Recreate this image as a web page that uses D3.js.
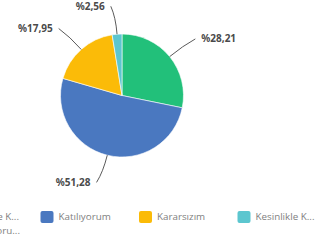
<!DOCTYPE html>
<html>
<head>
<meta charset="utf-8">
<script src="https://cdn.jsdelivr.net/npm/d3@7"></script>
<style>
	body { margin: 0; background: #fff; }
	svg { display: block; }
</style>
</head>
<body>
<div id="pie-chart-placeholder"></div>
<script>

// data
let categories = ["Kesinlikle Katılıyorum", "Katılıyorum", "Kararsızım", "Kesinlikle Katılmıyorum"];
let values = [28.21, 51.28, 17.95, 2.56];
let valueLabels = ["%28,21", "%51,28", "%17,95", "%2,56"];
let colors = ["#22c07a", "#4a78c0", "#fbbb08", "#5cc6cf"];

// legend rows as shown (first column is cut off by the left edge)
let legendRow1 = ["Kesinlikle K...", "Katılıyorum", "Kararsızım", "Kesinlikle K..."];
let legendRow1Colors = ["#22c07a", "#4a78c0", "#fbbb08", "#5cc6cf"];
let legendRow2 = ["Katılmıyoru..."];
let legendRow2Colors = ["#e8684a"];

function drawPieChart() {
	let width = 327, height = 246;
	let cx = 122, cy = 95.5, radius = 61.5;

	let svg = d3.select("#pie-chart-placeholder")
		.append("svg")
		.attr("width", width)
		.attr("height", height);

	let g = svg.append("g")
		.attr("transform", `translate(${cx}, ${cy})`);

	let pie = d3.pie().sort(null).value(d => d);
	let arcs = pie(values);

	let arc = d3.arc().innerRadius(0).outerRadius(radius);

	g.selectAll("path.slice")
		.data(arcs)
		.enter()
		.append("path")
		.attr("class", "slice")
		.attr("d", arc)
		.attr("fill", (d, i) => colors[i])
		.attr("stroke", "#fff")
		.attr("stroke-width", 0.6);

	// point at a given radius along the middle angle of a slice
	function polar(a, r) {
		return [Math.sin(a) * r, -Math.cos(a) * r];
	}

	arcs.forEach(function (d, i) {
		let mid = (d.startAngle + d.endAngle) / 2;
		let right = Math.sin(mid) > 0;
		let p0 = polar(mid, radius);
		let p1 = polar(mid, radius + 17);
		let p2 = polar(mid, radius + 28);
		p2[0] += right ? 4 : -4;

		let path = d3.path();
		path.moveTo(p0[0], p0[1]);
		path.quadraticCurveTo(p1[0], p1[1], p2[0], p2[1]);
		g.append("path")
			.attr("d", path.toString())
			.attr("fill", "none")
			.attr("stroke", "#5a5a5a")
			.attr("stroke-width", 1);

		g.append("text")
			.attr("x", p2[0] + (right ? 6 : -6))
			.attr("y", p2[1])
			.attr("dy", "0.35em")
			.attr("text-anchor", right ? "start" : "end")
			.attr("font-family", "Noto Sans, sans-serif")
			.attr("font-size", "10px")
			.attr("font-weight", "bold")
			.attr("fill", "#4a4a4a")
			.text(valueLabels[i]);
	});

	// Legend
	let itemWidth = 98.5;
	let xLegend = d3.scaleLinear().domain([0, 1]).range([-58, -58 + itemWidth]);

	function drawLegendRow(labels, cols, y) {
		let row = svg.append("g").attr("transform", `translate(0, ${y})`);
		labels.forEach(function (label, i) {
			let x = xLegend(i);
			row.append("rect")
				.attr("x", x)
				.attr("y", -6)
				.attr("width", 13)
				.attr("height", 12)
				.attr("rx", 2)
				.attr("fill", cols[i]);
			row.append("text")
				.attr("x", x + 18)
				.attr("y", 0)
				.attr("dy", "0.35em")
				.attr("font-family", "Open Sans, sans-serif")
				.attr("font-size", "9.8px")
				.attr("fill", "#808080")
				.text(label);
		});
	}

	drawLegendRow(legendRow1, legendRow1Colors, 217);
	drawLegendRow(legendRow2, legendRow2Colors, 231);
}

drawPieChart();
</script>
</body>
</html>
